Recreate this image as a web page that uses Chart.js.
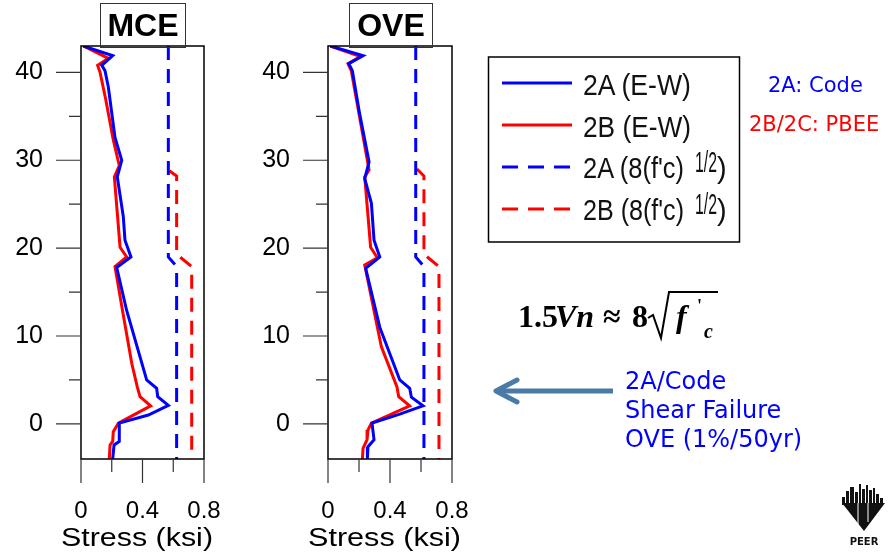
<!DOCTYPE html>
<html>
<head>
<meta charset="utf-8">
<script src="https://cdn.jsdelivr.net/npm/chart.js@4.4.1/dist/chart.umd.min.js"></script>
<style>
  html, body { margin: 0; padding: 0; background: #fff; }
  #page { position: relative; width: 888px; height: 559px; overflow: hidden; }
  canvas { position: absolute; top: 0; }
  #mce { left: 0; }
  #ove { left: 248px; }
  .title { position: absolute; top: 3px; height: 45px; box-sizing: border-box; border: 1.5px solid #333;
           font: bold 32px "Liberation Sans", Arial, sans-serif; text-align: center; line-height: 43px; }
  svg { position: absolute; left: 0; top: 0; }
  .lg { font-family: "Liberation Sans", Arial, sans-serif; font-size: 29px; fill: #111; }
  .ax { font-family: "Liberation Sans", Arial, sans-serif; font-size: 26px; fill: #000; }
  .vd { font-family: "DejaVu Sans", Verdana, sans-serif; }
  .tm { font-family: "Liberation Serif", "Times New Roman", serif; font-weight: bold; }
</style>
</head>
<body>
<div id="page">
  <canvas id="mce" width="240" height="559"></canvas>
  <canvas id="ove" width="240" height="559"></canvas>
  <div class="title" style="left:100px;width:86px">MCE</div>
  <div class="title" style="left:349px;width:84px">OVE</div>
  <svg width="888" height="559">
    <!-- axis titles -->
    <text class="ax" x="61" y="546" textLength="152" lengthAdjust="spacingAndGlyphs">Stress (ksi)</text>
    <text class="ax" x="308" y="546" textLength="153" lengthAdjust="spacingAndGlyphs">Stress (ksi)</text>

    <!-- legend -->
    <rect x="488.5" y="57" width="251" height="185" fill="none" stroke="#000" stroke-width="1.5"/>
    <line x1="502" y1="83" x2="572" y2="83" stroke="#0000ff" stroke-width="3"/>
    <line x1="502" y1="125" x2="572" y2="125" stroke="#ff0000" stroke-width="3"/>
    <line x1="502" y1="167" x2="572" y2="167" stroke="#0000ff" stroke-width="3" stroke-dasharray="16 10"/>
    <line x1="502" y1="209" x2="572" y2="209" stroke="#ff0000" stroke-width="3" stroke-dasharray="16 10"/>
    <text class="lg" x="583" y="95" textLength="108" lengthAdjust="spacingAndGlyphs">2A (E-W)</text>
    <text class="lg" x="583" y="137" textLength="108" lengthAdjust="spacingAndGlyphs">2B (E-W)</text>
    <text class="lg" x="583" y="178" textLength="101" lengthAdjust="spacingAndGlyphs">2A (8(f'c)</text>
    <text class="lg" x="695" y="172" font-size="19" textLength="22" lengthAdjust="spacingAndGlyphs">1/2</text>
    <text class="lg" x="717" y="178">)</text>
    <text class="lg" x="583" y="220" textLength="101" lengthAdjust="spacingAndGlyphs">2B (8(f'c)</text>
    <text class="lg" x="695" y="214" font-size="19" textLength="22" lengthAdjust="spacingAndGlyphs">1/2</text>
    <text class="lg" x="717" y="220">)</text>

    <text class="vd" x="768" y="92" font-size="21" fill="#0000ff">2A: Code</text>
    <text class="vd" x="749" y="131" font-size="21" fill="#ff0000">2B/2C: PBEE</text>

    <!-- formula -->
    <text class="tm" x="518" y="327" font-size="32">1.5</text>
    <text class="tm" x="555" y="327" font-size="32" font-style="italic">Vn</text>
    <text class="tm" x="603" y="327" font-size="32">≈</text>
    <text class="tm" x="632" y="327" font-size="32">8</text>
    <path d="M648,318 L653,315 L661,338 L669,292 L718,292" fill="none" stroke="#000" stroke-width="2"/>
    <text class="tm" x="676" y="327" font-size="32" font-style="italic">f</text>
    <text class="tm" x="697" y="312" font-size="18">'</text>
    <text class="tm" x="704" y="338" font-size="20" font-style="italic">c</text>

    <!-- arrow -->
    <line x1="613" y1="391" x2="499" y2="391" stroke="#4a7ba6" stroke-width="5"/>
    <polyline points="517,380 496,391 517,402" fill="none" stroke="#4a7ba6" stroke-width="5" stroke-linecap="round" stroke-linejoin="round"/>
    <text class="vd" x="625" y="389" font-size="24" fill="#0000ff">2A/Code</text>
    <text class="vd" x="625" y="418" font-size="24" fill="#0000ff">Shear Failure</text>
    <text class="vd" x="625" y="447" font-size="24" fill="#0000ff">OVE (1%/50yr)</text>

    <!-- PEER logo -->
    <polygon points="842,503 885,503 864,531" fill="#111"/>
    <rect x="842" y="497" width="3" height="8" fill="#111"/>
    <rect x="846" y="491" width="3" height="14" fill="#111"/>
    <rect x="850" y="487" width="4" height="18" fill="#111"/>
    <rect x="855" y="492" width="3" height="13" fill="#111"/>
    <rect x="859" y="484" width="2" height="21" fill="#111"/>
    <rect x="862" y="489" width="3" height="16" fill="#111"/>
    <rect x="866" y="485" width="2" height="20" fill="#111"/>
    <rect x="869" y="490" width="3" height="15" fill="#111"/>
    <rect x="873" y="488" width="2" height="17" fill="#111"/>
    <rect x="876" y="494" width="3" height="11" fill="#111"/>
    <rect x="880" y="498" width="3" height="7" fill="#111"/>
    <line x1="858" y1="503" x2="858" y2="524" stroke="#fff" stroke-width="1"/>
    <line x1="868" y1="503" x2="868" y2="522" stroke="#fff" stroke-width="1"/>
    <text x="864" y="545" font-family="DejaVu Sans" font-weight="bold" font-size="10" text-anchor="middle" fill="#111">PEER</text>
  </svg>
</div>
<script>
// tick positions
const xMajor = [0, 0.4, 0.8];
const xMinor = [0.2, 0.6];
const yMajor = [0, 10, 20, 30, 40];
const yMinor = [5, 15, 25, 35];

// MCE
const mce2A_stress = [0.015, 0.206, 0.135, 0.156, 0.178, 0.221, 0.265, 0.236, 0.275, 0.286, 0.325, 0.232, 0.297, 0.427, 0.492, 0.499, 0.568, 0.438, 0.249, 0.249, 0.215, 0.206];
const mce2A_level  = [43, 41.9, 40.8, 40.2, 38.3, 32.6, 30.0, 28.1, 23.6, 20.9, 19.0, 17.8, 12.9, 5.0, 4.05, 3.1, 2.1, 1.0, 0.08, -2.0, -2.4, -4];
const mce2B_stress = [0.015, 0.178, 0.108, 0.124, 0.16, 0.21, 0.249, 0.217, 0.254, 0.297, 0.221, 0.27, 0.33, 0.366, 0.384, 0.453, 0.243, 0.21, 0.206, 0.189, 0.184];
const mce2B_level  = [43, 41.6, 40.8, 40.0, 37, 32.3, 29.4, 28.1, 20.1, 19.0, 17.9, 12.9, 6.9, 4.2, 3.1, 2.05, 0.08, -0.9, -2.0, -2.4, -4];
const mce2A_cap_stress = [0.568, 0.568, 0.622, 0.622];
const mce2A_cap_level  = [43, 19.0, 17.9, -4];
const mce2B_cap_stress = [0.574, 0.622, 0.622, 0.72, 0.72];
const mce2B_cap_level  = [28.8, 28.2, 19.3, 17.9, -4];

// OVE
const ove2A_stress = [0.015, 0.226, 0.134, 0.157, 0.204, 0.265, 0.237, 0.28, 0.297, 0.334, 0.243, 0.334, 0.463, 0.527, 0.538, 0.613, 0.463, 0.284, 0.297, 0.258, 0.254];
const ove2A_level  = [43, 41.9, 41.0, 40.2, 35.3, 29.8, 27.9, 25.1, 20.9, 19.0, 17.7, 11.0, 5.0, 4.05, 3.03, 2.05, 1.1, 0.08, -1.8, -2.6, -4];
const ove2B_stress = [0.015, 0.21, 0.129, 0.15, 0.2, 0.265, 0.237, 0.275, 0.318, 0.237, 0.344, 0.445, 0.456, 0.527, 0.28, 0.258, 0.252, 0.226, 0.222];
const ove2B_level  = [43, 41.8, 41.0, 40.2, 35.3, 28.9, 28.1, 20.1, 18.9, 18.07, 8.8, 4.2, 3.1, 2.05, 0.08, -0.7, -1.8, -2.8, -4];
const ove2A_cap_stress = [0.566, 0.566, 0.619, 0.619];
const ove2A_cap_level  = [43, 19.0, 17.9, -4];
const ove2B_cap_stress = [0.574, 0.619, 0.619, 0.716, 0.716];
const ove2B_cap_level  = [29, 28.2, 19.3, 17.9, -4];

const BLUE = '#0000ff', RED = '#ff0000';
const pts = (xs, ys) => xs.map((x, i) => ({ x, y: ys[i] }));

// frame around the plot + outside tick marks (long = labelled, short = minor)
const frameTicks = {
  id: 'frameTicks',
  afterDraw(chart) {
    const { ctx, chartArea: a, scales: { x, y } } = chart;
    ctx.save();
    ctx.strokeStyle = '#000';
    ctx.lineWidth = 1.5;
    ctx.strokeRect(a.left, a.top, a.right - a.left, a.bottom - a.top);
    ctx.strokeStyle = '#333';
    ctx.lineWidth = 1.2;
    ctx.beginPath();
    yMajor.forEach(v => { const p = y.getPixelForValue(v); ctx.moveTo(a.left - 25, p); ctx.lineTo(a.left, p); });
    yMinor.forEach(v => { const p = y.getPixelForValue(v); ctx.moveTo(a.left - 12, p); ctx.lineTo(a.left, p); });
    xMajor.forEach(v => { const p = x.getPixelForValue(v); ctx.moveTo(p, a.bottom); ctx.lineTo(p, a.bottom + 24); });
    xMinor.forEach(v => { const p = x.getPixelForValue(v); ctx.moveTo(p, a.bottom); ctx.lineTo(p, a.bottom + 13); });
    ctx.stroke();
    ctx.restore();
  }
};

function noPad(s) {
  s.paddingLeft = 0; s.paddingRight = 0; s.paddingTop = 0; s.paddingBottom = 0;
}

function makeChart(id, axisW, sets) {
  const font = 'Liberation Sans';
  return new Chart(document.getElementById(id), {
    type: 'scatter',
    data: {
      datasets: sets.map(s => ({
        data: s.data,
        borderColor: s.color,
        borderDash: s.dash ? [14, 9] : [],
        borderWidth: 3,
        showLine: true,
        pointRadius: 0,
        tension: 0
      }))
    },
    options: {
      responsive: false,
      animation: false,
      layout: { padding: { top: 46, right: 36, left: 0, bottom: 0 } },
      plugins: { legend: { display: false }, tooltip: { enabled: false } },
      scales: {
        x: {
          type: 'linear', min: 0, max: 0.8,
          grid: { display: false, drawTicks: false }, border: { display: false },
          afterBuildTicks: s => { s.ticks = xMajor.map(v => ({ value: v })); },
          afterFit: s => { s.height = 100; noPad(s); },
          ticks: { font: { family: font, size: 24 }, color: '#000', padding: 38, maxRotation: 0, autoSkip: false, callback: v => String(v) }
        },
        y: {
          type: 'linear', min: -4, max: 43,
          grid: { display: false, drawTicks: false }, border: { display: false },
          afterBuildTicks: s => { s.ticks = yMajor.map(v => ({ value: v })); },
          afterFit: s => { s.width = axisW; noPad(s); },
          ticks: { font: { family: font, size: 25 }, color: '#000', padding: 38, autoSkip: false, callback: v => String(v) }
        }
      }
    },
    plugins: [frameTicks]
  });
}

makeChart('mce', 81, [
  { data: pts(mce2A_stress, mce2A_level), color: BLUE },
  { data: pts(mce2B_stress, mce2B_level), color: RED },
  { data: pts(mce2A_cap_stress, mce2A_cap_level), color: BLUE, dash: true },
  { data: pts(mce2B_cap_stress, mce2B_cap_level), color: RED, dash: true }
]);

makeChart('ove', 80, [
  { data: pts(ove2A_stress, ove2A_level), color: BLUE },
  { data: pts(ove2B_stress, ove2B_level), color: RED },
  { data: pts(ove2A_cap_stress, ove2A_cap_level), color: BLUE, dash: true },
  { data: pts(ove2B_cap_stress, ove2B_cap_level), color: RED, dash: true }
]);
</script>
</body>
</html>
